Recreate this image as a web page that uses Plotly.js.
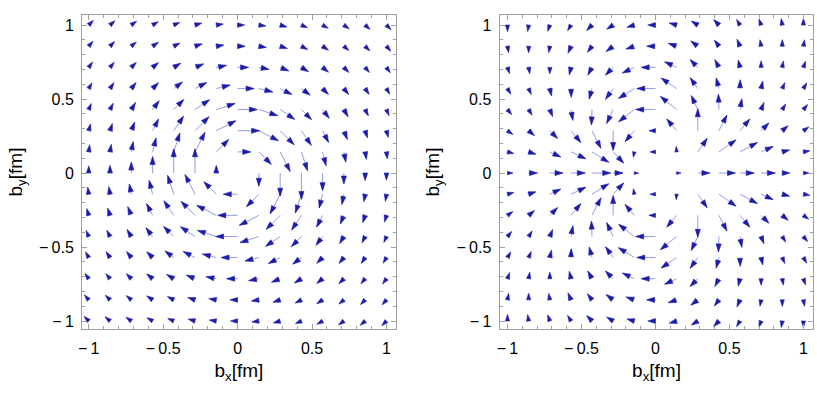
<!DOCTYPE html>
<html>
<head>
<meta charset="utf-8">
<script src="https://cdn.plot.ly/plotly-3.0.1.min.js"></script>
<style>
  html, body { margin: 0; padding: 0; background: #fff; }
  #plot { width: 817px; height: 399px; }
</style>
</head>
<body>
<div id="plot"></div>
<script>
// sample points in b_x (columns) and b_y (rows, top to bottom), fm
const gridX = [-1, -0.857, -0.714, -0.571, -0.429, -0.286, -0.143, 0, 0.143, 0.286, 0.429, 0.571, 0.714, 0.857, 1];
const gridY = [1, 0.857, 0.714, 0.571, 0.429, 0.286, 0.143, 0, -0.143, -0.286, -0.429, -0.571, -0.714, -0.857, -1];

// left panel: arrow direction (deg from +b_x) and magnitude
const leftAngle = [
  [45, 41, 36, 30, 23, 16, 8, 0, -8, -16, -23, -30, -36, -41, -45],
  [49, 45, 40, 34, 27, 18, 9, 0, -9, -18, -27, -34, -40, -45, -49],
  [54, 50, 45, 39, 31, 22, 11, 0, -11, -22, -31, -39, -45, -50, -54],
  [60, 56, 51, 45, 37, 27, 14, 0, -14, -27, -37, -45, -51, -56, -60],
  [67, 63, 59, 53, 45, 34, 18, 0, -18, -34, -45, -53, -59, -63, -67],
  [74, 72, 68, 63, 56, 45, 27, 0, -27, -45, -56, -63, -68, -72, -74],
  [82, 80, 79, 76, 72, 63, 45, 0, -45, -63, -72, -76, -79, -80, -82],
  [90, 90, 90, 90, 90, 90, 90, 0, -90, -90, -90, -90, -90, -90, -90],
  [98, 100, 101, 104, 108, 117, 135, 180, -135, -117, -108, -104, -101, -100, -98],
  [106, 108, 112, 117, 124, 135, 153, 180, -153, -135, -124, -117, -112, -108, -106],
  [113, 117, 121, 127, 135, 146, 162, 180, -162, -146, -135, -127, -121, -117, -113],
  [120, 124, 129, 135, 143, 153, 166, 180, -166, -153, -143, -135, -129, -124, -120],
  [126, 130, 135, 141, 149, 158, 169, 180, -169, -158, -149, -141, -135, -130, -126],
  [131, 135, 140, 146, 153, 162, 171, 180, -171, -162, -153, -146, -140, -135, -131],
  [135, 139, 144, 150, 157, 164, 172, 180, -172, -164, -157, -150, -144, -139, -135]
];
const leftMag = [
  [6, 6, 6, 6, 6, 6.5, 6.5, 6.5, 6.5, 6.5, 6, 6, 6, 6, 6],
  [6, 6, 6, 6.5, 6.5, 7, 7, 7, 7, 7, 6.5, 6.5, 6, 6, 6],
  [6, 6, 6.5, 7, 7.5, 8.5, 9.5, 10, 9.5, 8.5, 7.5, 7, 6.5, 6, 6],
  [6, 6.5, 7, 7.5, 10, 12, 13, 15, 13, 12, 10, 7.5, 7, 6.5, 6],
  [6, 6.5, 7.5, 10, 13, 16, 18, 18, 18, 16, 13, 10, 7.5, 6.5, 6],
  [6.5, 7, 8.5, 12, 16, 18, 20, 20, 20, 18, 16, 12, 8.5, 7, 6.5],
  [6.5, 7, 9.5, 13, 18, 20, 16, 12, 16, 20, 18, 13, 9.5, 7, 6.5],
  [6.5, 7, 10, 15, 22, 22, 7, 0, 12, 21, 24, 16, 10, 7, 6.5],
  [6.5, 7, 9.5, 13, 18, 20, 16, 13, 16, 20, 18, 13, 9.5, 7, 6.5],
  [6.5, 7, 8.5, 12, 16, 18, 20, 18, 20, 18, 16, 12, 8.5, 7, 6.5],
  [6, 6.5, 7.5, 10, 13, 16, 18, 20, 18, 16, 13, 10, 7.5, 6.5, 6],
  [6, 6.5, 7, 7.5, 10, 12, 13, 15, 13, 12, 10, 7.5, 7, 6.5, 6],
  [6, 6, 6.5, 7, 7.5, 8.5, 9.5, 10, 9.5, 8.5, 7.5, 7, 6.5, 6, 6],
  [6, 6, 6, 6.5, 6.5, 7, 7, 7, 7, 7, 6.5, 6.5, 6, 6, 6],
  [6, 6, 6, 6, 6, 6.5, 6.5, 6.5, 6.5, 6.5, 6, 6, 6, 6, 6]
];

// right panel
const rightAngle = [
  [-90, -99, -109, -121, -134, -148, -164, 180, 164, 148, 134, 121, 109, 99, 90],
  [-80, -90, -100, -113, -127, -143, -161, 180, 161, 143, 127, 113, 100, 90, 80],
  [-71, -80, -90, -103, -118, -135, -155, 180, 155, 135, 118, 103, 90, 80, 71],
  [-60, -67, -77, -88, -105, -125, -148, 180, 146, 125, 105, 88, 77, 67, 60],
  [-50, -58, -68, -80, -92, -115, -142, 180, 141, 115, 92, 80, 68, 58, 50],
  [-35, -40, -45, -50, -63, -90, -130, 180, 130, 90, 63, 50, 45, 40, 35],
  [-15, -18, -25, -25, -32, -47, -100, 180, 95, 55, 35, 28, 24, 15, 10],
  [0, 0, 0, 0, 0, 0, 0, 0, 0, 0, 0, 0, 0, 0, 0],
  [15, 18, 25, 25, 32, 47, 100, 180, -95, -55, -35, -28, -24, -15, -10],
  [35, 40, 45, 50, 63, 90, 130, 180, -130, -90, -63, -50, -45, -40, -35],
  [50, 58, 68, 80, 92, 115, 142, 180, -141, -115, -92, -80, -68, -58, -50],
  [60, 67, 77, 88, 105, 125, 148, 180, -146, -125, -105, -88, -77, -67, -60],
  [71, 80, 90, 103, 118, 135, 155, 180, -155, -135, -118, -103, -90, -80, -71],
  [80, 90, 100, 113, 127, 143, 161, 180, -161, -143, -127, -113, -100, -90, -80],
  [90, 99, 109, 121, 134, 148, 164, 180, -164, -148, -134, -121, -109, -99, -90]
];
const rightMag = [
  [6, 6, 6, 6, 7, 7, 7, 7, 7, 7, 7, 6, 6, 6, 6],
  [6, 6, 6, 7, 7, 8, 8, 8, 8, 8, 7, 7, 6, 6, 6],
  [6, 6, 6, 7, 8, 10, 12, 13, 12, 10, 8, 7, 6, 6, 6],
  [6, 6, 7, 8, 10, 12, 17, 17, 17, 12, 10, 8, 7, 6, 6],
  [6, 6, 7, 10, 14, 14, 18, 18, 19, 14, 14, 10, 7, 6, 6],
  [6, 7, 10, 14, 18, 18, 13, 6, 14, 20, 16, 14, 10, 7, 6],
  [6, 7, 11, 15, 18, 14, 5, 5, 5, 15, 19, 18, 12, 7, 6],
  [5, 8, 12, 13, 17, 9, 4, 0, 4, 11, 15, 13, 13, 7, 5],
  [6, 7, 11, 15, 18, 14, 5, 5, 5, 15, 19, 18, 12, 7, 6],
  [6, 7, 10, 14, 18, 18, 13, 6, 14, 20, 16, 14, 10, 7, 6],
  [6, 6, 7, 10, 14, 14, 18, 18, 19, 14, 14, 10, 7, 6, 6],
  [6, 6, 7, 8, 10, 12, 17, 17, 17, 12, 10, 8, 7, 6, 6],
  [6, 6, 6, 7, 8, 10, 12, 13, 12, 10, 8, 7, 6, 6, 6],
  [6, 6, 6, 7, 7, 8, 8, 8, 8, 8, 7, 7, 6, 6, 6],
  [6, 6, 6, 6, 7, 7, 7, 7, 7, 7, 7, 6, 6, 6, 6]
];

const tickVals = [-1, -0.5, 0, 0.5, 1];
const tickText = ['\u2212\u20091', '\u2212\u20090.5', '0', '0.5', '1'];

const W = 817, H = 399;
const xRange1 = [-1.045, 1.062];
const xRange2 = [-1.054, 1.068];
const yRange = [-1.054, 1.068];
const xDom1 = [0.1004, 0.4843];
const xDom2 = [0.6114, 0.9957];
const yDom = [0.1754, 0.9624];

const headColor = '#1c1ca8';
const shaftColor = 'rgba(70,70,215,0.55)';
const font = 'Liberation Sans, Arial, Helvetica, sans-serif';
const pxPerUnit = 1.1;

// turn directions + magnitudes into shaft segments and triangular heads
function arrows(angle, mag, xr, xd, xa, ya) {
  const sx = W * (xd[1] - xd[0]) / (xr[1] - xr[0]);
  const sy = H * (yDom[1] - yDom[0]) / (yRange[1] - yRange[0]);
  const lx = [], ly = [], hx = [], hy = [];
  angle.forEach((row, j) => row.forEach((a, i) => {
    const L = mag[j][i] * pxPerUnit;
    if (!L) return;
    const x0 = gridX[i], y0 = gridY[j];
    const c = Math.cos(a * Math.PI / 180), s = Math.sin(a * Math.PI / 180);
    const h = Math.min(8, L), w = h * 0.32;
    const tx = x0 + L * c / sx, ty = y0 + L * s / sy;
    const bx = x0 + (L - h) * c / sx, by = y0 + (L - h) * s / sy;
    if (L > h) {
      lx.push(x0, tx, null);
      ly.push(y0, ty, null);
    }
    hx.push(tx, bx - w * s / sx, bx + w * s / sx, tx, null);
    hy.push(ty, by + w * c / sy, by - w * c / sy, ty, null);
  }));
  return [
    { type: 'scatter', mode: 'lines', x: lx, y: ly, xaxis: xa, yaxis: ya,
      line: { color: shaftColor, width: 1 }, hoverinfo: 'skip', showlegend: false },
    { type: 'scatter', mode: 'lines', x: hx, y: hy, xaxis: xa, yaxis: ya,
      fill: 'toself', fillcolor: headColor,
      line: { color: headColor, width: 0.6 }, hoverinfo: 'skip', showlegend: false }
  ];
}

function axis(range, domain, anchor, title, isY) {
  return {
    range: range, domain: domain, anchor: anchor,
    showgrid: false, zeroline: false,
    showline: true, linecolor: '#a0a0a0', linewidth: 1, mirror: 'ticks',
    ticks: 'inside', ticklen: 5, tickcolor: '#a0a0a0', tickwidth: 1,
    tickmode: 'array', tickvals: tickVals, ticktext: tickText,
    minor: { ticks: 'inside', ticklen: 3, tickcolor: '#a0a0a0', dtick: 0.1, tick0: 0 },
    tickfont: { family: font, size: 16, color: '#000' },
    ticklabelstandoff: isY ? 4 : 5,
    title: { text: title, font: { family: font, size: 19, color: '#000' }, standoff: isY ? 11 : 7 },
    fixedrange: true
  };
}

const data = [].concat(
  arrows(leftAngle, leftMag, xRange1, xDom1, 'x', 'y'),
  arrows(rightAngle, rightMag, xRange2, xDom2, 'x2', 'y2')
);

const layout = {
  width: W, height: H,
  margin: { l: 0, r: 0, t: 0, b: 0 },
  paper_bgcolor: '#fff', plot_bgcolor: '#fff',
  showlegend: false,
  xaxis: axis(xRange1, xDom1, 'y', 'b<sub>x</sub>[fm]', false),
  yaxis: axis(yRange, yDom, 'x', 'b<sub>y</sub>[fm]', true),
  xaxis2: axis(xRange2, xDom2, 'y2', 'b<sub>x</sub>[fm]', false),
  yaxis2: axis(yRange, yDom, 'x2', 'b<sub>y</sub>[fm]', true)
};

Plotly.newPlot('plot', data, layout, { displayModeBar: false, staticPlot: true });
</script>
</body>
</html>
